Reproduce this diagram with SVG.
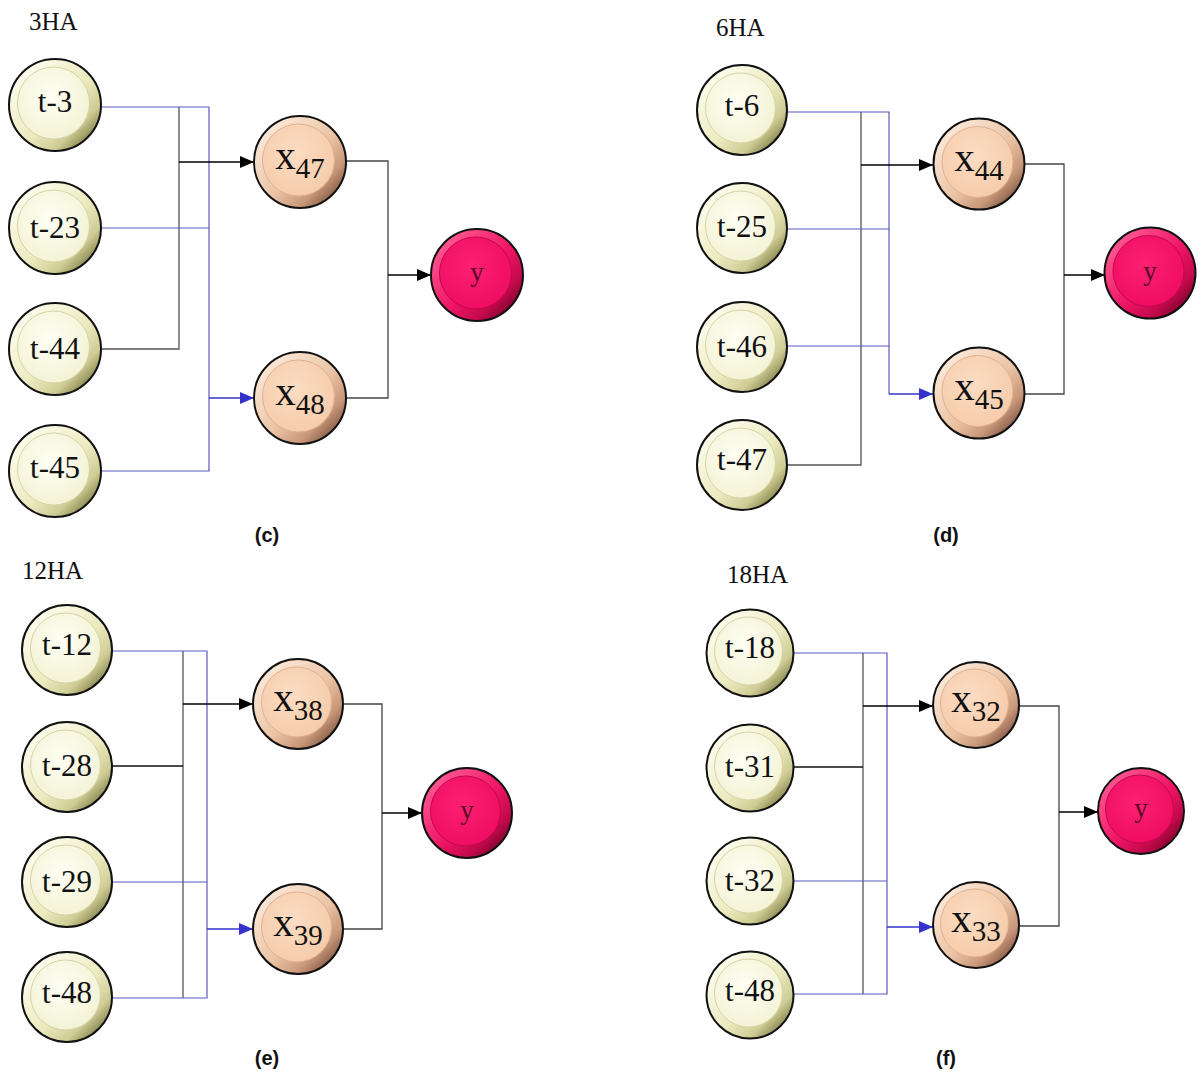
<svg xmlns="http://www.w3.org/2000/svg" width="1203" height="1073" viewBox="0 0 1203 1073">
  <defs>
    <!-- bevelled ring gradients, light upper-left to dark lower-right -->
    <linearGradient id="ringT" x1="0.1" y1="0.1" x2="0.9" y2="0.9">
      <stop offset="0" stop-color="#fefef2"/>
      <stop offset="0.55" stop-color="#eceabf"/>
      <stop offset="0.8" stop-color="#cfcd95"/>
      <stop offset="1" stop-color="#77763e"/>
    </linearGradient>
    <radialGradient id="coreT" cx="0.45" cy="0.4" r="0.65">
      <stop offset="0" stop-color="#fefef4"/>
      <stop offset="1" stop-color="#f3f2d3"/>
    </radialGradient>
    <linearGradient id="ringX" x1="0.1" y1="0.1" x2="0.9" y2="0.9">
      <stop offset="0" stop-color="#fdebdc"/>
      <stop offset="0.55" stop-color="#eac3a4"/>
      <stop offset="0.8" stop-color="#c8977a"/>
      <stop offset="1" stop-color="#7a503c"/>
    </linearGradient>
    <radialGradient id="coreX" cx="0.45" cy="0.4" r="0.65">
      <stop offset="0" stop-color="#fbdcc3"/>
      <stop offset="1" stop-color="#f6cba9"/>
    </radialGradient>
    <linearGradient id="ringY" x1="0.1" y1="0.1" x2="0.9" y2="0.9">
      <stop offset="0" stop-color="#ff5c95"/>
      <stop offset="0.55" stop-color="#ee1464"/>
      <stop offset="0.8" stop-color="#c40a4c"/>
      <stop offset="1" stop-color="#760028"/>
    </linearGradient>
    <radialGradient id="coreY" cx="0.45" cy="0.4" r="0.65">
      <stop offset="0" stop-color="#fc2072"/>
      <stop offset="1" stop-color="#ee0c60"/>
    </radialGradient>
    <marker id="arrK" viewBox="0 0 14 12" refX="14" refY="6" markerWidth="14" markerHeight="12" markerUnits="userSpaceOnUse" orient="auto">
      <path d="M0,0 L14,6 L0,12 z" fill="#000"/>
    </marker>
    <marker id="arrB" viewBox="0 0 14 12" refX="14" refY="6" markerWidth="14" markerHeight="12" markerUnits="userSpaceOnUse" orient="auto">
      <path d="M0,0 L14,6 L0,12 z" fill="#3333cc"/>
    </marker>
  </defs>
  <style>
    .ring { stroke: #111; stroke-width: 2; }
    .core { stroke-width: 1; }
    .tnode .ring { fill: url(#ringT); }
    .tnode .core { fill: url(#coreT); stroke: #d6d4a6; }
    .xnode .ring { fill: url(#ringX); }
    .xnode .core { fill: url(#coreX); stroke: #dfb191; }
    .ynode .ring { fill: url(#ringY); }
    .ynode .core { fill: url(#coreY); stroke: #c0084e; }
    text { font-family: "Liberation Serif", "Times New Roman", serif; text-anchor: middle; fill: #111; }
    .tl { font-size: 31px; }
    .xl { font-size: 41px; }
    .xl .sub { font-size: 29px; }
    .yl { font-size: 27px; fill: #5a0a26; }
    .title { font-size: 25px; text-anchor: start; }
    .cap { font-family: "Liberation Sans", Arial, sans-serif; font-weight: bold; font-size: 20px; }
    .blue { fill: none; stroke: #5a5ac4; stroke-width: 1.2; }
    .grey { fill: none; stroke: #555; stroke-width: 1.3; }
    .ak { fill: none; stroke: #000; stroke-width: 1.6; marker-end: url(#arrK); }
    .ab { fill: none; stroke: #3333cc; stroke-width: 1.6; marker-end: url(#arrB); }
    .out { fill: none; stroke: #444; stroke-width: 1.3; }
  </style>

  <rect width="1203" height="1073" fill="#fff"/>

  <!-- panel titles and captions -->
  <text class="title" x="29" y="30">3HA</text>
  <text class="title" x="716" y="36">6HA</text>
  <text class="title" x="22" y="579">12HA</text>
  <text class="title" x="727" y="583">18HA</text>
  <text class="cap" x="267" y="542">(c)</text>
  <text class="cap" x="946" y="542">(d)</text>
  <text class="cap" x="267" y="1065">(e)</text>
  <text class="cap" x="946" y="1065">(f)</text>

  <g id="connectors">
    <!-- (c) -->
    <path class="grey" d="M179 107 V349 H101"/>
    <path class="blue" d="M101 107 H209 V471 H101"/>
    <path class="blue" d="M101 228 H209"/>
    <path class="ak" d="M179 162 H254"/>
    <path class="ab" d="M209 398 H254"/>
    <path class="out" d="M346 161 H388 V398 H344"/>
    <path class="ak" d="M388 275 H431"/>
    <!-- (d) -->
    <path class="grey" d="M861 112 V465 H787"/>
    <path class="blue" d="M787 112 H889 V394"/>
    <path class="blue" d="M787 229 H889"/>
    <path class="blue" d="M787 346 H889"/>
    <path class="ak" d="M861 165 H933"/>
    <path class="ab" d="M889 394 H933"/>
    <path class="out" d="M1024 164 H1064 V394 H1024"/>
    <path class="ak" d="M1064 275 H1105"/>
    <!-- (e) -->
    <path class="grey" d="M183 651 V998"/>
    <path class="grey" d="M112 766 H183" style="stroke:#111"/>
    <path class="blue" d="M112 651 H207 V998 H112"/>
    <path class="blue" d="M112 882 H207"/>
    <path class="ak" d="M183 704 H253"/>
    <path class="ab" d="M207 929 H253"/>
    <path class="out" d="M343 704 H382 V929 H343"/>
    <path class="ak" d="M382 813 H422"/>
    <!-- (f) -->
    <path class="grey" d="M863 653 V994"/>
    <path class="grey" d="M794 767 H863" style="stroke:#111"/>
    <path class="blue" d="M794 653 H887 V994 H794"/>
    <path class="blue" d="M794 881 H887"/>
    <path class="ak" d="M863 706 H933"/>
    <path class="ab" d="M887 927 H933"/>
    <path class="out" d="M1019 706 H1059 V926 H1019"/>
    <path class="ak" d="M1059 812 H1098"/>
  </g>

  <!-- (c) nodes -->
  <g id="c-t3" class="tnode"><circle class="ring" cx="55" cy="105" r="46"/><circle class="core" cx="53.5" cy="103" r="36"/><text class="tl" x="55" y="112">t-3</text></g>
  <g id="c-t23" class="tnode"><circle class="ring" cx="55" cy="228" r="46"/><circle class="core" cx="53.5" cy="226" r="36"/><text class="tl" x="55" y="238">t-23</text></g>
  <g id="c-t44" class="tnode"><circle class="ring" cx="55" cy="349" r="46"/><circle class="core" cx="53.5" cy="347" r="36"/><text class="tl" x="55" y="359">t-44</text></g>
  <g id="c-t45" class="tnode"><circle class="ring" cx="55" cy="471" r="46"/><circle class="core" cx="53.5" cy="469" r="36"/><text class="tl" x="55" y="478">t-45</text></g>
  <g id="c-x47" class="xnode"><circle class="ring" cx="300" cy="162" r="46"/><circle class="core" cx="298.5" cy="160" r="36"/><text class="xl" x="300" y="169">x<tspan class="sub" dy="9">47</tspan></text></g>
  <g id="c-x48" class="xnode"><circle class="ring" cx="300" cy="398" r="46"/><circle class="core" cx="298.5" cy="396" r="36"/><text class="xl" x="300" y="405">x<tspan class="sub" dy="9">48</tspan></text></g>
  <g id="c-y" class="ynode"><circle class="ring" cx="477" cy="275" r="46"/><circle class="core" cx="475.5" cy="273" r="36"/><text class="yl" x="477" y="281">y</text></g>

  <!-- (d) nodes -->
  <g id="d-t6" class="tnode"><circle class="ring" cx="742" cy="110" r="45"/><circle class="core" cx="740.5" cy="108" r="35"/><text class="tl" x="742" y="116">t-6</text></g>
  <g id="d-t25" class="tnode"><circle class="ring" cx="742" cy="228" r="45"/><circle class="core" cx="740.5" cy="226" r="35"/><text class="tl" x="742" y="237">t-25</text></g>
  <g id="d-t46" class="tnode"><circle class="ring" cx="742" cy="347" r="45"/><circle class="core" cx="740.5" cy="345" r="35"/><text class="tl" x="742" y="357">t-46</text></g>
  <g id="d-t47" class="tnode"><circle class="ring" cx="742" cy="465" r="45"/><circle class="core" cx="740.5" cy="463" r="35"/><text class="tl" x="742" y="470">t-47</text></g>
  <g id="d-x44" class="xnode"><circle class="ring" cx="979" cy="164" r="45.5"/><circle class="core" cx="977.5" cy="162" r="35.5"/><text class="xl" x="979" y="171">x<tspan class="sub" dy="9">44</tspan></text></g>
  <g id="d-x45" class="xnode"><circle class="ring" cx="979" cy="393" r="45.5"/><circle class="core" cx="977.5" cy="391" r="35.5"/><text class="xl" x="979" y="400">x<tspan class="sub" dy="9">45</tspan></text></g>
  <g id="d-y" class="ynode"><circle class="ring" cx="1150" cy="273" r="45.5"/><circle class="core" cx="1148.5" cy="271" r="35.5"/><text class="yl" x="1150" y="280">y</text></g>

  <!-- (e) nodes -->
  <g id="e-t12" class="tnode"><circle class="ring" cx="67" cy="650" r="45"/><circle class="core" cx="65.5" cy="648" r="35"/><text class="tl" x="67" y="655">t-12</text></g>
  <g id="e-t28" class="tnode"><circle class="ring" cx="67" cy="767" r="45"/><circle class="core" cx="65.5" cy="765" r="35"/><text class="tl" x="67" y="776">t-28</text></g>
  <g id="e-t29" class="tnode"><circle class="ring" cx="67" cy="882" r="45"/><circle class="core" cx="65.5" cy="880" r="35"/><text class="tl" x="67" y="892">t-29</text></g>
  <g id="e-t48" class="tnode"><circle class="ring" cx="67" cy="997" r="45"/><circle class="core" cx="65.5" cy="995" r="35"/><text class="tl" x="67" y="1003">t-48</text></g>
  <g id="e-x38" class="xnode"><circle class="ring" cx="298" cy="704" r="45"/><circle class="core" cx="296.5" cy="702" r="35"/><text class="xl" x="298" y="711">x<tspan class="sub" dy="9">38</tspan></text></g>
  <g id="e-x39" class="xnode"><circle class="ring" cx="298" cy="929" r="45"/><circle class="core" cx="296.5" cy="927" r="35"/><text class="xl" x="298" y="936">x<tspan class="sub" dy="9">39</tspan></text></g>
  <g id="e-y" class="ynode"><circle class="ring" cx="467" cy="813" r="45"/><circle class="core" cx="465.5" cy="811" r="35"/><text class="yl" x="467" y="819">y</text></g>

  <!-- (f) nodes -->
  <g id="f-t18" class="tnode"><circle class="ring" cx="750" cy="653" r="43.5"/><circle class="core" cx="748.5" cy="651" r="34"/><text class="tl" x="750" y="658">t-18</text></g>
  <g id="f-t31" class="tnode"><circle class="ring" cx="750" cy="768" r="43.5"/><circle class="core" cx="748.5" cy="766" r="34"/><text class="tl" x="750" y="777">t-31</text></g>
  <g id="f-t32" class="tnode"><circle class="ring" cx="750" cy="881" r="43.5"/><circle class="core" cx="748.5" cy="879" r="34"/><text class="tl" x="750" y="891">t-32</text></g>
  <g id="f-t48" class="tnode"><circle class="ring" cx="750" cy="995" r="43.5"/><circle class="core" cx="748.5" cy="993" r="34"/><text class="tl" x="750" y="1001">t-48</text></g>
  <g id="f-x32" class="xnode"><circle class="ring" cx="976" cy="705" r="43"/><circle class="core" cx="974.5" cy="703" r="34"/><text class="xl" x="976" y="712">x<tspan class="sub" dy="9">32</tspan></text></g>
  <g id="f-x33" class="xnode"><circle class="ring" cx="976" cy="925" r="43"/><circle class="core" cx="974.5" cy="923" r="34"/><text class="xl" x="976" y="932">x<tspan class="sub" dy="9">33</tspan></text></g>
  <g id="f-y" class="ynode"><circle class="ring" cx="1141" cy="811" r="43"/><circle class="core" cx="1139.5" cy="809" r="34"/><text class="yl" x="1141" y="817">y</text></g>
</svg>
